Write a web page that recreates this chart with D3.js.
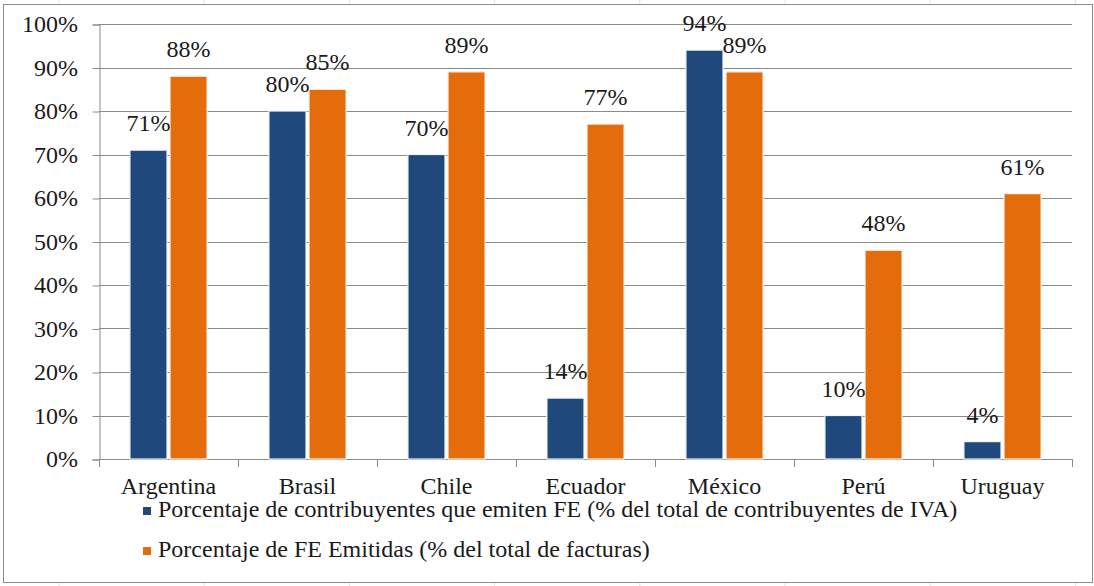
<!DOCTYPE html>
<html>
<head>
<meta charset="utf-8">
<script src="https://cdn.jsdelivr.net/npm/d3@7"></script>
</head>
<body style="margin:0">
<script>
var countries = ['Argentina', 'Brasil', 'Chile', 'Ecuador', 'México', 'Perú', 'Uruguay']
var contribuyentes = [0.71, 0.80, 0.70, 0.14, 0.94, 0.10, 0.04]
var facturas = [0.88, 0.85, 0.89, 0.77, 0.89, 0.48, 0.61]
var seriesNames = [
  'Porcentaje de contribuyentes que emiten FE (% del total de contribuyentes de IVA)',
  'Porcentaje de FE Emitidas (% del total de facturas)'
]
var yTicks = [0, 0.1, 0.2, 0.3, 0.4, 0.5, 0.6, 0.7, 0.8, 0.9, 1]

var colors = ['#1f497d', '#e46c0a']
var ink = '#1a1a1a'
var fs = 24

let w = 1094
let h = 586

let svg = d3.select('body')
  .append('svg')
  .attr('width', w)
  .attr('height', h)

// faint spreadsheet cells behind the chart
svg.selectAll('.cell')
  .data(d3.range(8))
  .enter()
  .append('line')
  .attr('x1', function(d) { return 59 + d * 145.2 })
  .attr('x2', function(d) { return 59 + d * 145.2 })
  .attr('y1', 0)
  .attr('y2', h)
  .attr('stroke', '#e2e2e2')

svg.append('rect')
  .attr('x', 3.5)
  .attr('y', 4.5)
  .attr('width', 1089)
  .attr('height', 578)
  .attr('fill', '#fff')
  .attr('stroke', '#8c8c8c')

var plotL = 99, plotR = 1072, plotT = 24, plotB = 459

var x0 = d3.scaleBand()
  .domain(countries)
  .range([plotL, plotR])

var groupW = x0.bandwidth() * 0.555
var x1 = d3.scaleBand()
  .domain([0, 1])
  .range([0, groupW])
  .paddingInner(0.075)

var y = d3.scaleLinear()
  .domain([0, 1])
  .range([plotB, plotT])

// gridlines
svg.append('g')
  .selectAll('line')
  .data(yTicks)
  .enter()
  .append('line')
  .attr('x1', plotL)
  .attr('x2', plotR)
  .attr('y1', function(d) { return Math.round(y(d)) + 0.5 })
  .attr('y2', function(d) { return Math.round(y(d)) + 0.5 })
  .attr('stroke', '#8a8a8a')

// y axis lines from d3, labels drawn as plain text
let yAxis = svg.append('g')
  .attr('transform', 'translate(' + (plotL + 0.5) + ',0.5)')
  .call(d3.axisLeft(y).tickValues(yTicks).tickFormat('').tickSize(7))
yAxis.select('.domain').attr('stroke', '#8a8a8a')
yAxis.selectAll('.tick line').attr('stroke', '#8a8a8a')

svg.append('g')
  .selectAll('text')
  .data(yTicks)
  .enter()
  .append('text')
  .attr('x', 78)
  .attr('y', function(d) { return y(d) + 8 })
  .attr('text-anchor', 'end')
  .attr('font-size', fs)
  .attr('font-family', function() { return 'Liberation Serif' })
  .attr('fill', ink)
  .text(function(d) { return d3.format('.0%')(d) })

// x axis: ticks on category boundaries
svg.append('line')
  .attr('x1', plotL).attr('x2', plotR)
  .attr('y1', plotB + 0.5).attr('y2', plotB + 0.5)
  .attr('stroke', '#8a8a8a')

svg.append('g')
  .selectAll('line')
  .data(countries.concat(['end']))
  .enter()
  .append('line')
  .attr('x1', function(d, i) { return Math.round(plotL + i * x0.step()) + 0.5 })
  .attr('x2', function(d, i) { return Math.round(plotL + i * x0.step()) + 0.5 })
  .attr('y1', plotB)
  .attr('y2', plotB + 8)
  .attr('stroke', '#8a8a8a')

svg.append('g')
  .selectAll('text')
  .data(countries)
  .enter()
  .append('text')
  .attr('x', function(d) { return x0(d) + x0.bandwidth() / 2 })
  .attr('y', 494)
  .attr('text-anchor', 'middle')
  .attr('font-size', fs)
  .attr('font-family', function() { return 'Liberation Serif' })
  .attr('fill', ink)
  .text(function(d) { return d })

// bars
var rows = countries.map(function(c, i) {
  return { country: c, values: [contribuyentes[i], facturas[i]] }
})

let groups = svg.append('g')
  .selectAll('g')
  .data(rows)
  .enter()
  .append('g')
  .attr('transform', function(d) {
    return 'translate(' + (x0(d.country) + (x0.bandwidth() - groupW) / 2) + ',0)'
  })

groups.selectAll('rect')
  .data(function(d) { return d.values })
  .enter()
  .append('rect')
  .attr('x', function(d, i) { return x1(i) })
  .attr('y', function(d) { return y(d) })
  .attr('width', x1.bandwidth())
  .attr('height', function(d) { return plotB - y(d) })
  .attr('fill', function(d, i) { return colors[i] })
  .attr('stroke', '#f4f4f4')
  .attr('stroke-width', 1.2)

groups.selectAll('text')
  .data(function(d) { return d.values })
  .enter()
  .append('text')
  .attr('x', function(d, i) { return x1(i) + x1.bandwidth() / 2 })
  .attr('y', function(d) { return y(d) - 19 })
  .attr('text-anchor', 'middle')
  .attr('font-size', fs)
  .attr('font-family', function() { return 'Liberation Serif' })
  .attr('fill', ink)
  .text(function(d) { return d3.format('.0%')(d) })

// legend
let legend = svg.append('g')
  .selectAll('g')
  .data(seriesNames)
  .enter()
  .append('g')
  .attr('transform', function(d, i) { return 'translate(143,' + (507 + i * 40) + ')' })

legend.append('rect')
  .attr('width', 8)
  .attr('height', 8)
  .attr('fill', function(d, i) { return colors[i] })

legend.append('text')
  .attr('x', 15)
  .attr('y', 10)
  .attr('font-size', fs)
  .attr('font-family', function() { return 'Liberation Serif' })
  .attr('fill', ink)
  .text(function(d) { return d })
</script>
</body>
</html>
